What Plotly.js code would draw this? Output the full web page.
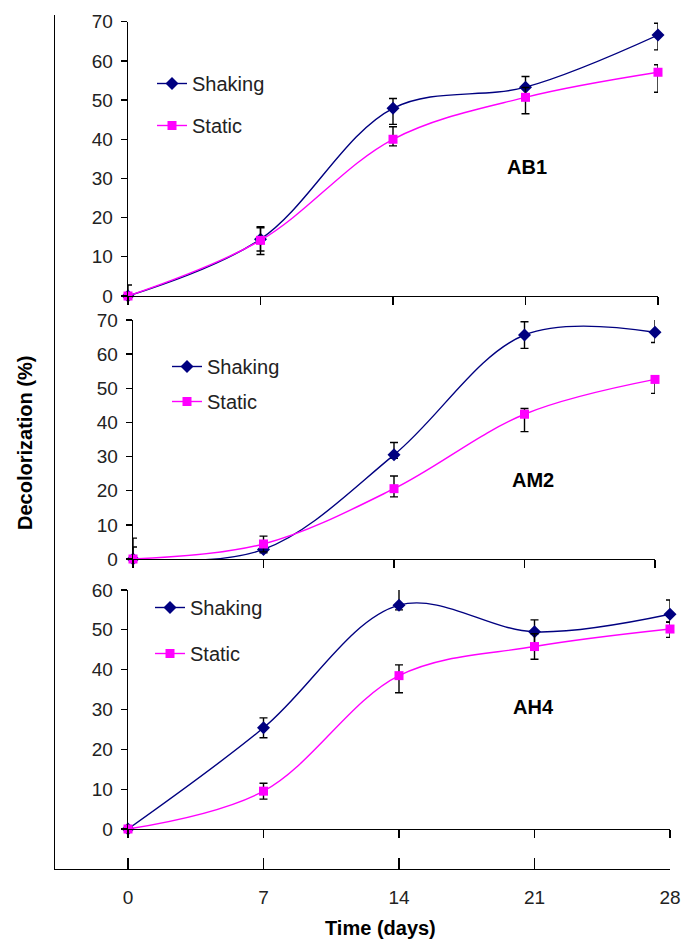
<!DOCTYPE html>
<html>
<head>
<meta charset="utf-8">
<script src="https://cdn.plot.ly/plotly-3.0.1.min.js"></script>
<style>html,body{margin:0;padding:0;background:#fff;}</style>
</head>
<body>
<div id="chart" style="width:681px;height:940px;"></div>
<script>
// ---- data ----
const days = [0, 7, 14, 21, 28];
const dayTicks = ["0", "7", "14", "21", "28"];
const seriesNames = ["Shaking", "Static"];
const panelLabels = ["AB1", "AM2", "AH4"];

const ab1Shaking = [0, 14.5, 47.9, 53.3, 66.6];
const ab1ShakingErrPlus = [2.8, 2.9, 2.5, 2.7, 3.0];
const ab1ShakingErrMinus = [0, 3.0, 4.1, 2.7, 3.8];
const ab1Static = [0, 14.2, 40.0, 50.7, 57.1];
const ab1StaticErrPlus = [0, 3.5, 3.2, 2.5, 1.9];
const ab1StaticErrMinus = [0, 3.6, 1.7, 4.2, 5.1];

const am2Shaking = [0, 2.8, 30.5, 65.6, 66.4];
const am2ShakingErrPlus = [6.1, 1.0, 3.6, 3.9, 3.9];
const am2ShakingErrMinus = [0, 1.0, 1.0, 3.9, 3.0];
const am2Static = [0, 4.4, 20.6, 42.4, 52.6];
const am2StaticErrPlus = [3.5, 2.3, 3.7, 1.7, 1.0];
const am2StaticErrMinus = [0, 2.3, 2.4, 5.1, 4.1];

const ah4Shaking = [0, 25.4, 56.2, 49.5, 53.9];
const ah4ShakingErrPlus = [0, 2.5, 4.8, 3.0, 3.6];
const ah4ShakingErrMinus = [0, 2.5, 1.2, 3.0, 2.0];
const ah4Static = [0, 9.5, 38.5, 45.8, 50.2];
const ah4StaticErrPlus = [0, 2.0, 2.7, 3.2, 1.8];
const ah4StaticErrMinus = [0, 2.0, 4.3, 3.2, 2.1];

// ---- styling / layout helpers ----
const W = 681, H = 940;
const px = v => v / W;
const py = v => 1 - v / H;
const SHAKE = "#000080", STAT = "#FF00FF";
const tickFont = {family: "Liberation Sans, Arial, sans-serif", size: 19, color: "#222"};
const legFont = {family: "Liberation Sans, Arial, sans-serif", size: 20, color: "#222"};
const labFont = {family: "Liberation Sans, Arial, sans-serif", size: 20, color: "#000"};

function mkTrace(y, ep, em, name, color, sym, xa, ya, leg, grp) {
  return {
    x: days, y: y, name: name, type: "scatter", mode: "lines+markers",
    xaxis: xa, yaxis: ya, legend: leg, legendgroup: grp,
    line: {color: color, width: 1.4, shape: "spline", smoothing: 1},
    marker: {color: color, symbol: sym, size: sym === "diamond" ? 10 : 9},
    cliponaxis: false,
    error_y: {type: "data", symmetric: false, array: ep, arrayminus: em,
              color: "#000", thickness: 1.4, width: 4},
    hoverinfo: "x+y"
  };
}

const data = [
  mkTrace(ab1Shaking, ab1ShakingErrPlus, ab1ShakingErrMinus, seriesNames[0], SHAKE, "diamond", "x", "y", "legend", "a1"),
  mkTrace(ab1Static, ab1StaticErrPlus, ab1StaticErrMinus, seriesNames[1], STAT, "square", "x", "y", "legend", "a2"),
  mkTrace(am2Shaking, am2ShakingErrPlus, am2ShakingErrMinus, seriesNames[0], SHAKE, "diamond", "x2", "y2", "legend2", "b1"),
  mkTrace(am2Static, am2StaticErrPlus, am2StaticErrMinus, seriesNames[1], STAT, "square", "x2", "y2", "legend2", "b2"),
  mkTrace(ah4Shaking, ah4ShakingErrPlus, ah4ShakingErrMinus, seriesNames[0], SHAKE, "diamond", "x3", "y3", "legend3", "c1"),
  mkTrace(ah4Static, ah4StaticErrPlus, ah4StaticErrMinus, seriesNames[1], STAT, "square", "x3", "y3", "legend3", "c2"),
  {x: days, y: days.map(() => null), xaxis: "x4", yaxis: "y4", type: "scatter", mode: "lines",
   showlegend: false, hoverinfo: "skip"}
];

function xAx(d0, d1, anchor) {
  return {domain: [px(d0), px(d1)], range: [0, 28], anchor: anchor,
          tickvals: days, showticklabels: false, ticks: "outside", ticklen: 8,
          tickcolor: "#000", tickwidth: 1.3, showline: true, linecolor: "#000", linewidth: 1.4,
          showgrid: false, zeroline: false, fixedrange: true};
}
function yAx(top, bot, maxv, anchor) {
  return {domain: [py(bot), py(top)], range: [0, maxv], anchor: anchor, dtick: 10,
          ticks: "outside", ticklen: 6, tickcolor: "#000", tickwidth: 1.3,
          showline: true, linecolor: "#000", linewidth: 1.4, showgrid: false, zeroline: false,
          tickfont: tickFont, ticklabelstandoff: 4, fixedrange: true};
}
function leg(x, ytop, gap) {
  return {x: px(x), y: py(ytop), xanchor: "left", yanchor: "top", bgcolor: "rgba(0,0,0,0)",
          font: legFont, traceorder: "grouped", tracegroupgap: gap, itemwidth: 30};
}
function ann(text, x, y, angle) {
  return {text: text, xref: "paper", yref: "paper", x: px(x), y: py(y),
          xanchor: "center", yanchor: "middle", textangle: angle || 0,
          showarrow: false, font: labFont};
}

const layout = {
  width: W, height: H, autosize: false,
  margin: {l: 0, r: 0, t: 0, b: 0, pad: 0},
  paper_bgcolor: "#fff", plot_bgcolor: "rgba(0,0,0,0)",
  xaxis: xAx(128, 658, "y"),
  yaxis: yAx(21.7, 296, 70, "x"),
  xaxis2: xAx(133, 655, "y2"),
  yaxis2: yAx(320, 559, 70, "x2"),
  xaxis3: xAx(128, 670, "y3"),
  yaxis3: yAx(590, 829, 60, "x3"),
  xaxis4: {domain: [px(55), px(670)], range: [-3.77, 28], anchor: "y4",
           tickvals: days, ticktext: dayTicks, ticks: "inside", ticklen: 11,
           tickcolor: "#000", tickwidth: 1.3, showline: true, linecolor: "#000", linewidth: 1.4,
           showgrid: false, zeroline: false, tickfont: tickFont, ticklabelstandoff: 11, fixedrange: true},
  yaxis4: {domain: [py(869), py(15)], range: [0, 1], anchor: "x4", showline: true,
           linecolor: "#000", linewidth: 1.4, showticklabels: false, ticks: "",
           showgrid: false, zeroline: false, fixedrange: true},
  showlegend: true,
  legend: leg(152, 64, 13),
  legend2: leg(167, 347, 6),
  legend3: leg(150, 588, 17),
  annotations: [
    ann("<b>" + panelLabels[0] + "</b>", 527, 167),
    ann("<b>" + panelLabels[1] + "</b>", 533, 480),
    ann("<b>" + panelLabels[2] + "</b>", 533, 707),
    ann("<b>Decolorization (%)</b>", 25, 443, -90),
    ann("<b>Time (days)</b>", 380, 928)
  ]
};

Plotly.newPlot("chart", data, layout, {displayModeBar: false, staticPlot: true});
</script>
</body>
</html>
